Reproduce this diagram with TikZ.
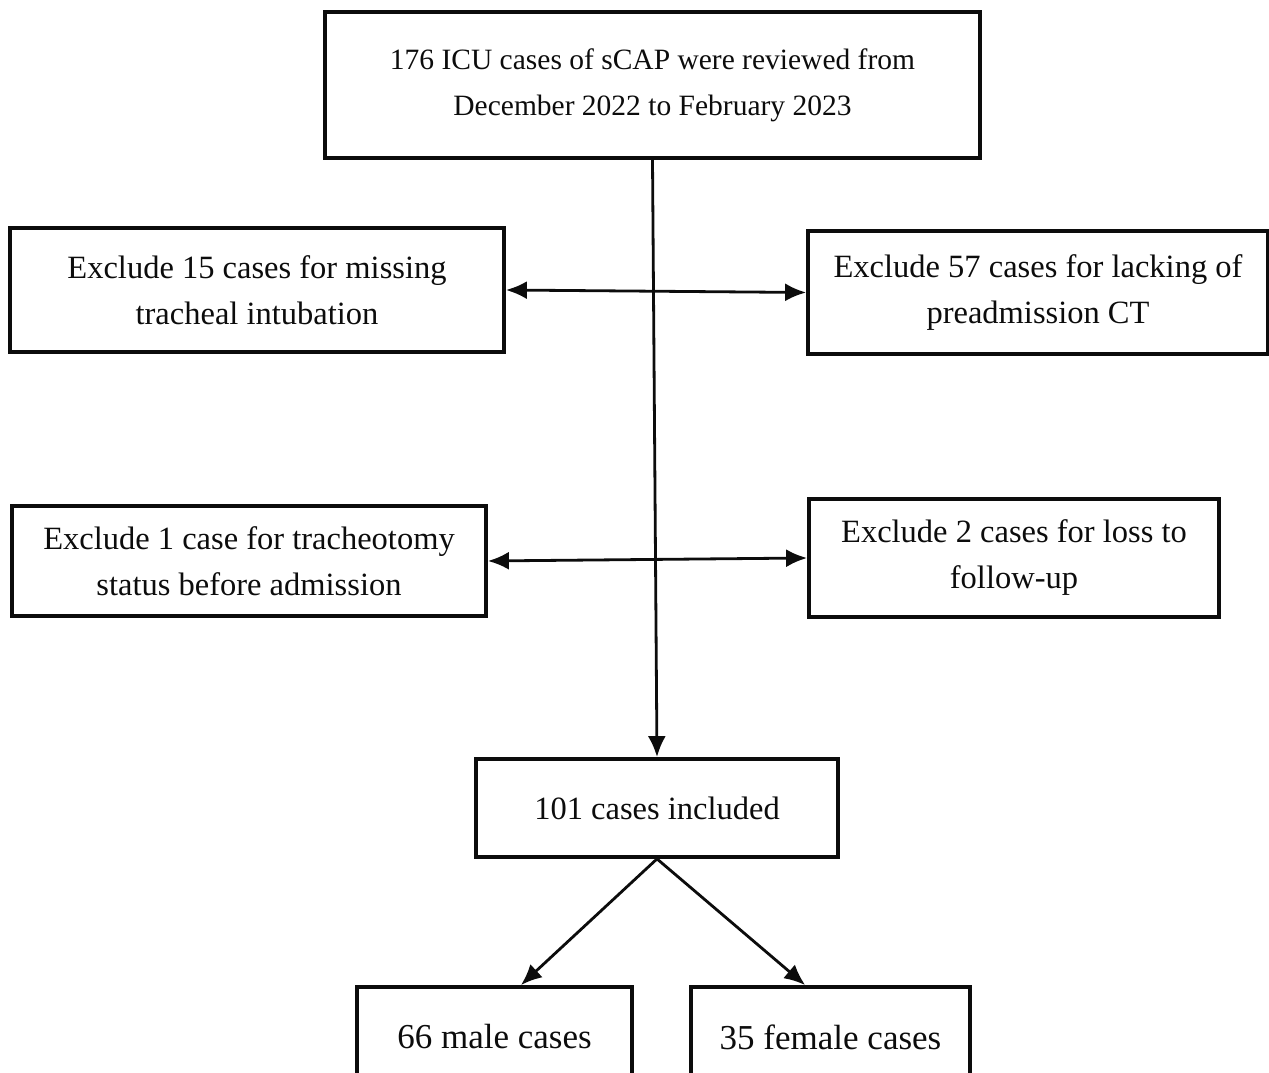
\documentclass[tikz,border=0pt]{standalone}
\usepackage{fontspec}
\setmainfont{Liberation Serif}
\usetikzlibrary{arrows.meta}
\definecolor{ink}{RGB}{12,12,12}

\begin{document}
\begin{tikzpicture}[x=1pt,y=1pt,line join=miter,
  box/.style={draw=ink,line width=3.8pt,text=ink,align=center,inner sep=0pt,
    font=\fontsize{32.5}{46}\selectfont},
  link/.style={draw=ink,line width=2.8pt,-{Latex[length=21pt,width=18pt]}},
  both/.style={link,{Latex[length=21pt,width=18pt]}-{Latex[length=21pt,width=18pt]}}]
\useasboundingbox (0,0) rectangle (1269,1073);
\node[box,minimum width=655pt,minimum height=146pt,font=\fontsize{29.5}{46}\selectfont] (review) at (652.5,988) {176 ICU cases of sCAP were reviewed from\\December 2022 to February 2023};
\node[box,minimum width=494pt,minimum height=124pt] (intub) at (257,783) {Exclude 15 cases for missing\\tracheal intubation};
\node[box,minimum width=460pt,minimum height=123pt] (ct) at (1038,780.5) {Exclude 57 cases for lacking of\\preadmission CT};
\node[box,minimum width=474pt,minimum height=110pt] (trach) at (249,512) {Exclude 1 case for tracheotomy\\status before admission};
\node[box,minimum width=410pt,minimum height=118pt] (loss) at (1014,515) {Exclude 2 cases for loss to\\follow-up};
\node[box,minimum width=362pt,minimum height=98pt] (incl) at (657,265) {101 cases included};
\node[box,minimum width=275pt,minimum height=100pt,font=\fontsize{35}{46}\selectfont] (male) at (494.5,36) {66 male cases};
\node[box,minimum width=279pt,minimum height=100pt,font=\fontsize{35}{46}\selectfont] (female) at (830.5,36) {35 female cases};
\draw[link] (review.south) -- (incl.north);
\draw[both] (intub.east) -- (ct.west);
\draw[both] (trach.east) -- (loss.west);
\draw[link] (incl.south) -- (male.63);
\draw[link] (incl.south) -- (female.116);
\end{tikzpicture}
\end{document}
